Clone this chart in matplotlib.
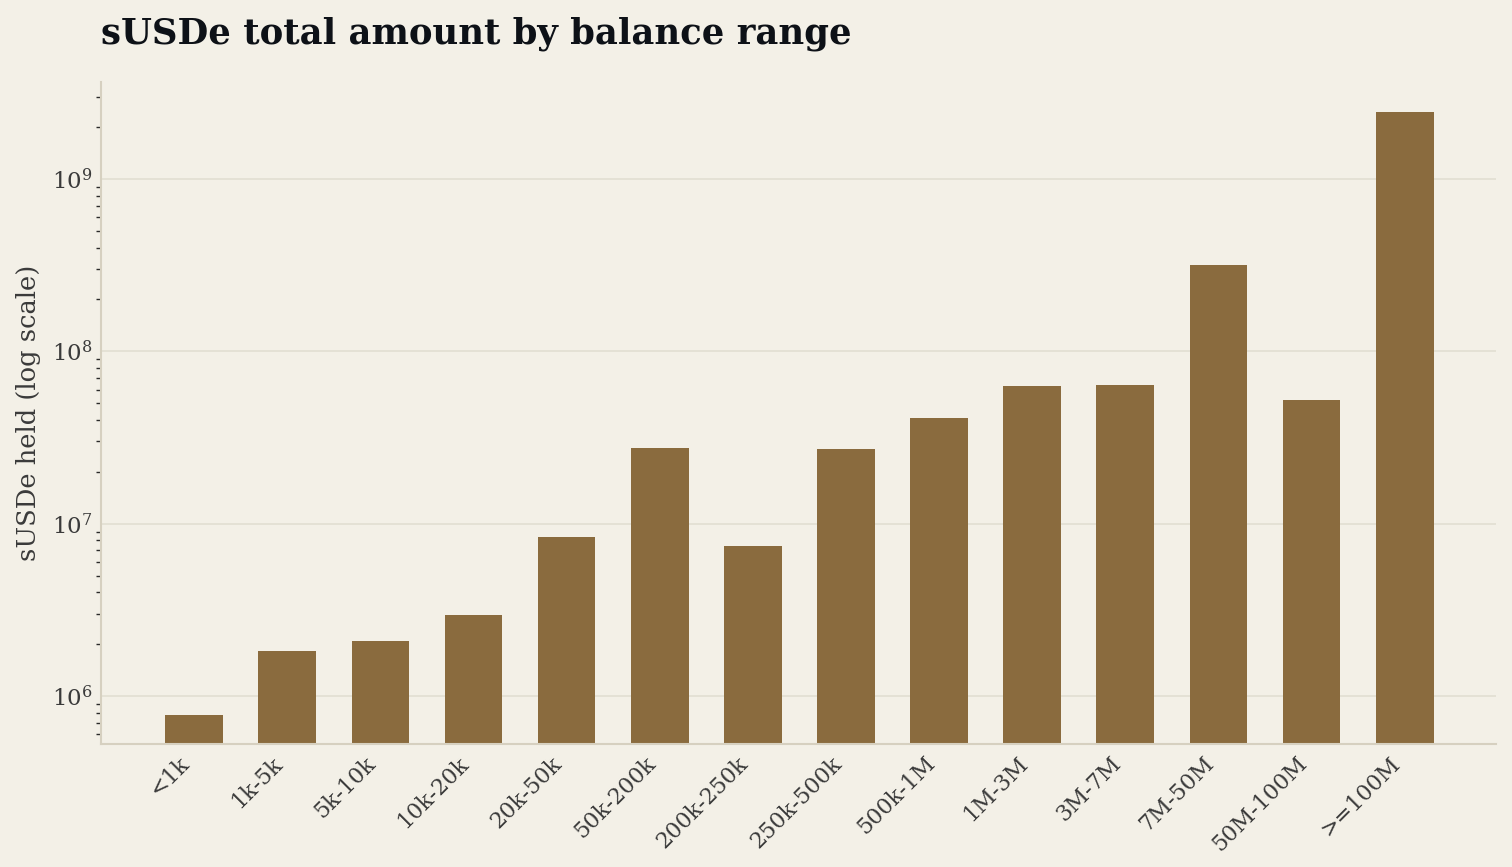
import matplotlib
matplotlib.use("Agg")
import matplotlib.pyplot as plt
from matplotlib.ticker import LogLocator, NullFormatter

categories = ["<1k", "1k-5k", "5k-10k", "10k-20k", "20k-50k", "50k-200k", "200k-250k",
              "250k-500k", "500k-1M", "1M-3M", "3M-7M", "7M-50M", "50M-100M", ">=100M"]
amounts = [7.8e5, 1.82e6, 2.08e6, 2.95e6, 8.4e6, 2.75e7, 7.4e6,
           2.7e7, 4.1e7, 6.3e7, 6.4e7, 3.17e8, 5.2e7, 2.45e9]

BG = "#f3f0e7"
BAR = "#8a6b3e"
TXT = "#3a3a3a"

plt.rcParams['font.family'] = ['DejaVu Serif']
fig = plt.figure(figsize=(15.12, 8.67), dpi=100, facecolor=BG)
ax = fig.add_axes([101/1512, 1-744/867, (1496-101)/1512, (744-82)/867])
ax.set_facecolor(BG)

x = list(range(len(categories)))
ax.bar(x, amounts, width=0.62, color=BAR, zorder=2)
ax.set_yscale('log')
ax.set_ylim(5.26e5, 3.66e9)
ax.set_xlim(-1.0, 13.98)

ax.set_xticks(x)
ax.set_xticklabels(categories, rotation=45, ha='right', fontsize=16, color=TXT)
ax.tick_params(axis='x', length=0, pad=6)
ax.tick_params(axis='y', which='major', length=0, labelsize=16.5, labelcolor=TXT, pad=6)
ax.tick_params(axis='y', which='minor', length=3.5, color='#2a2a2a', width=1)
ax.yaxis.set_minor_locator(LogLocator(base=10, subs=range(2, 10)))
ax.yaxis.set_minor_formatter(NullFormatter())

ax.grid(axis='y', which='major', color='#e2dfd2', linewidth=1.2, zorder=0)
ax.set_axisbelow(True)
for s in ['top', 'right']:
    ax.spines[s].set_visible(False)
for s in ['left', 'bottom']:
    ax.spines[s].set_color('#d6d0c0')
    ax.spines[s].set_linewidth(1.5)

ax.set_ylabel("sUSDe held (log scale)", fontsize=18.5, color=TXT, labelpad=8)
fig.text(101/1512, 1-34/867, "sUSDe total amount by balance range", fontsize=25.5,
         fontweight='bold', color='#0d1117', ha='left', va='center')

fig.savefig("out.png", dpi=100, facecolor=BG)
